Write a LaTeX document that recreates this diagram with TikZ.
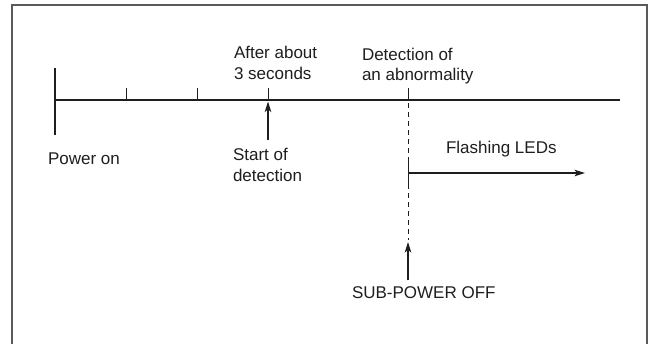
\documentclass[tikz,border=0pt]{standalone}
\usepackage{fontspec}
\setmainfont{Liberation Sans}
\usetikzlibrary{arrows.meta}
\definecolor{ink}{HTML}{1E1E1E}
\definecolor{framec}{HTML}{5A5A5A}
\tikzset{
  lbl/.style={inner sep=0pt, outer sep=0pt, text=ink, font=\fontsize{17}{21}\selectfont},
  axis/.style={draw=ink, line width=2.8pt},
  tick/.style={draw=ink, line width=1pt},
  ptr/.style={draw=ink, line width=1.1pt, -{Stealth[length=10.5pt,width=6.5pt,inset=2.5pt]}},
  dashline/.style={draw=ink, line width=1pt, dash pattern=on 5pt off 4pt, dash phase=-3pt},
  framel/.style={draw=framec, line width=1.6pt}
}
\begin{document}
\begin{tikzpicture}[x=1pt,y=-1pt]
\useasboundingbox (0,0) rectangle (652,343);
% frame (open at the bottom)
\coordinate (fbl) at (12,345);
\coordinate (ftl) at (12,5);
\coordinate (ftr) at (647,5);
\coordinate (fbr) at (647,345);
\draw[framel] (fbl) -- (ftl) -- (ftr) -- (fbr);
% timeline
\coordinate (t0) at (55,100);
\coordinate (t1) at (620,100);
\draw[axis] (t0) -- (t1);
\coordinate (pTop) at (55,68);
\coordinate (pBot) at (55,135);
\draw[axis] (pTop) -- (pBot);
% ticks
\coordinate (k1a) at (126,88); \coordinate (k1b) at (126,100);
\coordinate (k2a) at (197,88); \coordinate (k2b) at (197,100);
\coordinate (k3a) at (268,88); \coordinate (k3b) at (268,100);
\coordinate (k4a) at (408,88); \coordinate (k4b) at (408,100);
\draw[tick] (k1a) -- (k1b);
\draw[tick] (k2a) -- (k2b);
\draw[tick] (k3a) -- (k3b);
\draw[tick] (k4a) -- (k4b);
% start of detection arrow
\coordinate (sTail) at (268,140);
\coordinate (sTip) at (268,101.5);
\draw[ptr] (sTail) -- (sTip);
% dashed line at abnormality
\coordinate (dEnd) at (408,240);
\draw[dashline] (k4b) -- (dEnd);
% flashing LEDs arrow
\coordinate (fTop) at (408,162);
\coordinate (fBot) at (408,185);
\draw[tick] (fTop) -- (fBot);
\coordinate (fStart) at (408,173);
\coordinate (fEnd) at (585,173);
\draw[ptr] (fStart) -- (fEnd);
% sub-power off arrow
\coordinate (oTail) at (408,280);
\coordinate (oTip) at (408,242);
\draw[ptr] (oTail) -- (oTip);
% labels
\node[lbl, anchor=base west] (after1) at (234,58) {After about};
\node[lbl, anchor=base west] (after2) at (234,79) {3 seconds};
\node[lbl, anchor=base west] (det1) at (362,60) {Detection of};
\node[lbl, anchor=base west] (det2) at (362,80) {an abnormality};
\node[lbl, anchor=base west] (start1) at (233,160) {Start of};
\node[lbl, anchor=base west] (start2) at (233,181) {detection};
\node[lbl, anchor=base west] (power) at (48,164) {Power on};
\node[lbl, anchor=base west] (flash) at (446,153) {Flashing LEDs};
\node[lbl, anchor=base west] (sub) at (352,298) {SUB-POWER OFF};
\end{tikzpicture}
\end{document}
